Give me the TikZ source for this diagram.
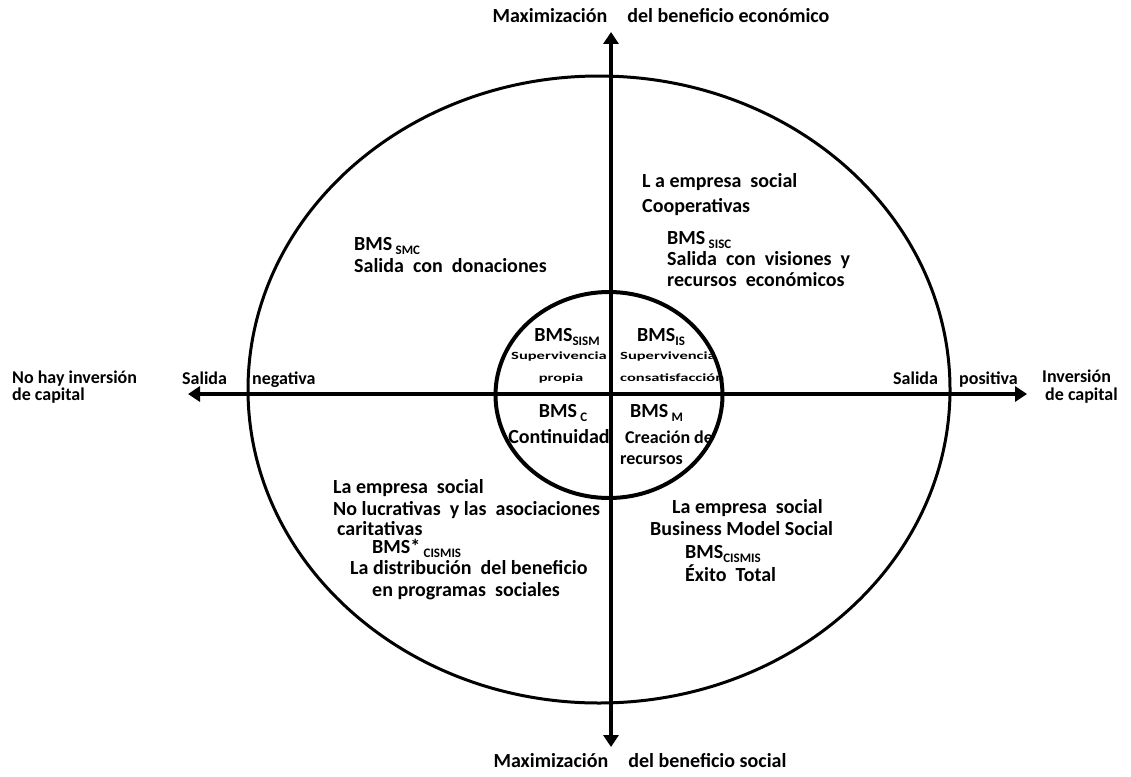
\documentclass[tikz,border=0pt]{standalone}
\usepackage{fontspec}
\setmainfont{Carlito}
\usetikzlibrary{arrows.meta,shapes.geometric}

% subscript used after "BMS"
\newcommand{\bmsub}[1]{{\fontsize{13}{13}\selectfont\raisebox{-4pt}{#1}}}
% small, horizontally stretched text inside the central circle
\newcommand{\wide}[1]{\scalebox{1.5}[1]{#1}}

\tikzset{
  lbl/.style={font=\fontsize{20}{22}\selectfont\bfseries, inner sep=0pt},
  mid/.style={font=\fontsize{18}{20}\selectfont\bfseries, inner sep=0pt},
  small/.style={font=\fontsize{11}{12}\selectfont\bfseries, inner sep=0pt},
  axisline/.style={line width=4pt, {Triangle[width=15pt,length=12pt]}-{Triangle[width=15pt,length=12pt]}},
  ring/.style={draw, ellipse, inner sep=0pt},
}

\begin{document}
\begin{tikzpicture}[x=1pt, y=-1pt]
\useasboundingbox (0,0) rectangle (1131,776);

% axis labels
\node[lbl, anchor=base] (top) at (661,23) {Maximización\quad del beneficio económico};
\node[lbl, anchor=base] (bot) at (640,767) {Maximización\quad del beneficio social};
\node[mid, anchor=base west] (noinv1) at (12,383) {No hay inversión};
\node[mid, anchor=base west] (noinv2) at (12,400) {de capital};
\node[mid, anchor=base west] (salneg) at (182,384) {Salida};
\node[mid, anchor=base west] (neg) at (252,384) {negativa};
\node[mid, anchor=base west] (salpos) at (893,384) {Salida};
\node[mid, anchor=base west] (pos) at (959,384) {positiva};
\node[mid, anchor=base west] (inv1) at (1042,382) {Inversión};
\node[mid, anchor=base west] (inv2) at (1045,400) {de capital};

% upper left quadrant
\node[lbl, anchor=base west] (smc1) at (354,250) {BMS\,\bmsub{SMC}};
\node[lbl, anchor=base west] (smc2) at (354,272) {Salida\ \ con\ \ donaciones};

% upper right quadrant
\node[lbl, anchor=base west] (ur1) at (642,187) {L a\ empresa\ \ social};
\node[lbl, anchor=base west] (ur2) at (642,212) {Cooperativas};
\node[lbl, anchor=base west] (ur3) at (667,244) {BMS\,\bmsub{SISC}};
\node[lbl, anchor=base west] (ur4) at (667,265) {Salida\ \ con\ \ visiones\ \ y};
\node[lbl, anchor=base west] (ur5) at (667,286) {recursos\ \ económicos};

% lower left quadrant
\node[lbl, anchor=base west] (ll1) at (333,493) {La empresa\ \ social};
\node[lbl, anchor=base west] (ll2) at (333,515) {No lucrativas\ \ y las\ \ asociaciones};
\node[lbl, anchor=base west] (ll3) at (337,535) {caritativas};
\node[lbl, anchor=base west] (ll4) at (372,553) {BMS*\,\bmsub{CISMIS}};
\node[lbl, anchor=base west] (ll5) at (350,574) {La distribución\ \ del beneficio};
\node[lbl, anchor=base west] (ll6) at (372,596) {en programas\ \ sociales};

% lower right quadrant
\node[lbl, anchor=base west] (lr1) at (672,513) {La empresa\ \ social};
\node[lbl, anchor=base west] (lr2) at (650,535) {Business Model Social};
\node[lbl, anchor=base west] (lr3) at (685,558) {BMS\bmsub{CISMIS}};
\node[lbl, anchor=base west] (lr4) at (685,581) {Éxito\ \ Total};

% central circle
\node[lbl, anchor=base] (sism) at (567,341) {BMS\bmsub{SISM}};
\node[small, anchor=base] (sup1) at (559,359) {\wide{Supervivencia}};
\node[small, anchor=base] (prop) at (561,381) {\wide{propia}};
\node[lbl, anchor=base west] (is) at (637,341) {BMS\bmsub{IS}};
\node[small, anchor=base west] (sup2) at (620,359) {\wide{Supervivencia}};
\node[small, anchor=base west] (cons) at (620,381) {\wide{consatisfacción}};
\node[lbl, anchor=base] (bc) at (563,417) {BMS\,\bmsub{C}};
\node[lbl, anchor=base] (cont) at (559,443) {Continuidad};
\node[lbl, anchor=base west] (bm) at (630,417) {BMS\,\bmsub{M}};
\node[mid, anchor=base west] (crea) at (625,443) {Creación de};
\node[mid, anchor=base west] (recu) at (620,464) {recursos};

% rings
\node[ring, line width=3pt, minimum width=702pt, minimum height=627pt] (outer) at (599,389.5) {};
\node[ring, line width=4pt, minimum width=227pt, minimum height=206pt] (inner) at (609,395) {};

% axes
\coordinate (L) at (188,394);
\coordinate (R) at (1027,394);
\coordinate (T) at (611,32);
\coordinate (B) at (611,747);
\draw[axisline] (L) -- (R);
\draw[axisline] (T) -- (B);
\end{tikzpicture}
\end{document}
